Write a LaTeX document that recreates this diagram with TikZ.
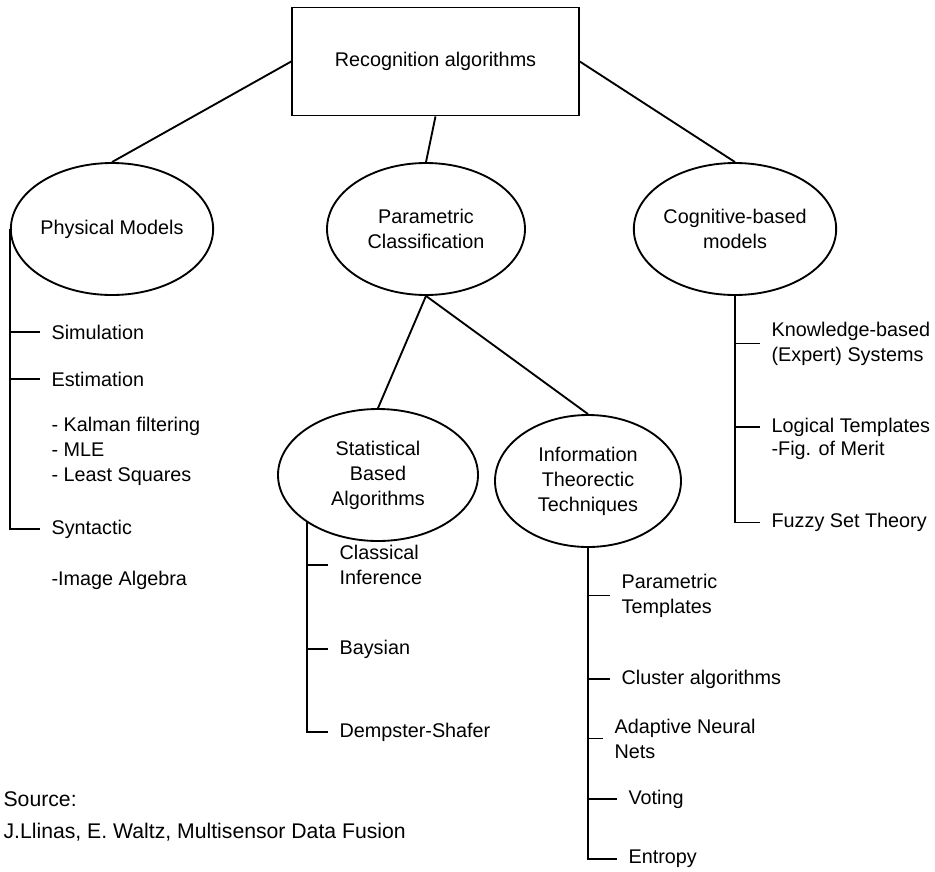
\documentclass[tikz,border=0pt]{standalone}
\usepackage{fontspec}
\setmainfont{Liberation Sans}
\usepackage{tikz}
\usetikzlibrary{shapes.geometric}

\begin{document}
\begin{tikzpicture}[
  x=0.75pt,y=-0.75pt,
  line width=1.4pt,
  font=\fontsize{14.85}{18.75}\selectfont,
  root/.style={draw,rectangle,minimum width=215pt,minimum height=81pt,inner sep=0pt},
  cls/.style={draw,ellipse,minimum width=148.5pt,minimum height=99pt,inner sep=0pt,align=center},
  leaf/.style={anchor=west,inner xsep=8pt,inner ysep=1pt,align=left},
  src/.style={anchor=west,inner xsep=2pt,font=\fontsize{15.9}{19}\selectfont},
]
\useasboundingbox (0,0) rectangle (935,871);

\node[root] (rec) at (435.5,61.5) {Recognition algorithms};
\node[cls] (pm) at (112,229) {Physical Models};
\node[cls] (pc) at (426,229) {Parametric\\Classification};
\node[cls] (cbm) at (735,229) {Cognitive-based\\models};
\node[cls,minimum width=150pt] (sba) at (378,475) {Statistical\\Based\\Algorithms};
\node[cls,minimum width=139.5pt] (itt) at (588,481) {Information\\Theorectic\\Techniques};

\draw (rec.west) -- (pm.north);
\draw (rec.south) -- (pc.north);
\draw (rec.east) -- (cbm.north);
\draw (pc.south) -- (sba.north);
\draw (pc.south) -- (itt.north);

\node[leaf] (sim) at (40,332) {Simulation};
\node[leaf] (est) at (40,379) {Estimation};
\node[leaf] (kal) at (40,451) {- Kalman filtering\\- MLE\\- Least Squares};
\node[leaf] (syn) at (40,529) {Syntactic};
\node[leaf] (ima) at (40,580) {-Image Algebra};
\draw (pm.west) -- (pm.west |- syn.west) -- (syn.west);
\draw (pm.west |- sim.west) -- (sim.west);
\draw (pm.west |- est.west) -- (est.west);

\node[leaf] (cli) at (328,565) {Classical\\Inference};
\node[leaf] (bay) at (328,649) {Baysian};
\node[leaf] (dsh) at (328,732) {Dempster-Shafer};
\draw (sba.south west) -- (sba.south west |- dsh.west) -- (dsh.west);
\draw (sba.south west |- cli.west) -- (cli.west);
\draw (sba.south west |- bay.west) -- (bay.west);

\node[leaf] (ptm) at (610,595.5) {Parametric\\Templates};
\node[leaf] (clu) at (610,679) {Cluster algorithms};
\node[leaf] (ann) at (603,738.5) {Adaptive Neural\\Nets};
\node[leaf] (vot) at (617,799) {Voting};
\node[leaf] (ent) at (617,859) {Entropy};
\draw (itt.south) -- (itt.south |- ent.west) -- (ent.west);
\draw (itt.south |- ptm.west) -- (ptm.west);
\draw (itt.south |- clu.west) -- (clu.west);
\draw (itt.south |- ann.west) -- (ann.west);
\draw (itt.south |- vot.west) -- (vot.west);

\node[leaf] (kbs) at (760,343.5) {Knowledge-based\\(Expert) Systems};
\node[leaf] (ltp) at (760,427) {Logical Templates};
\node[leaf] (fom) at (760,450) {-Fig. of Merit};
\node[leaf] (fst) at (760,522.5) {Fuzzy Set Theory};
\draw (cbm.south) -- (cbm.south |- fst.west) -- (fst.west);
\draw (cbm.south |- kbs.west) -- (kbs.west);
\draw (cbm.south |- ltp.west) -- (ltp.west);

\node[src] (src1) at (0,799) {Source:};
\node[src] (src2) at (0,832) {J.Llinas, E. Waltz, Multisensor Data Fusion};
\end{tikzpicture}
\end{document}
